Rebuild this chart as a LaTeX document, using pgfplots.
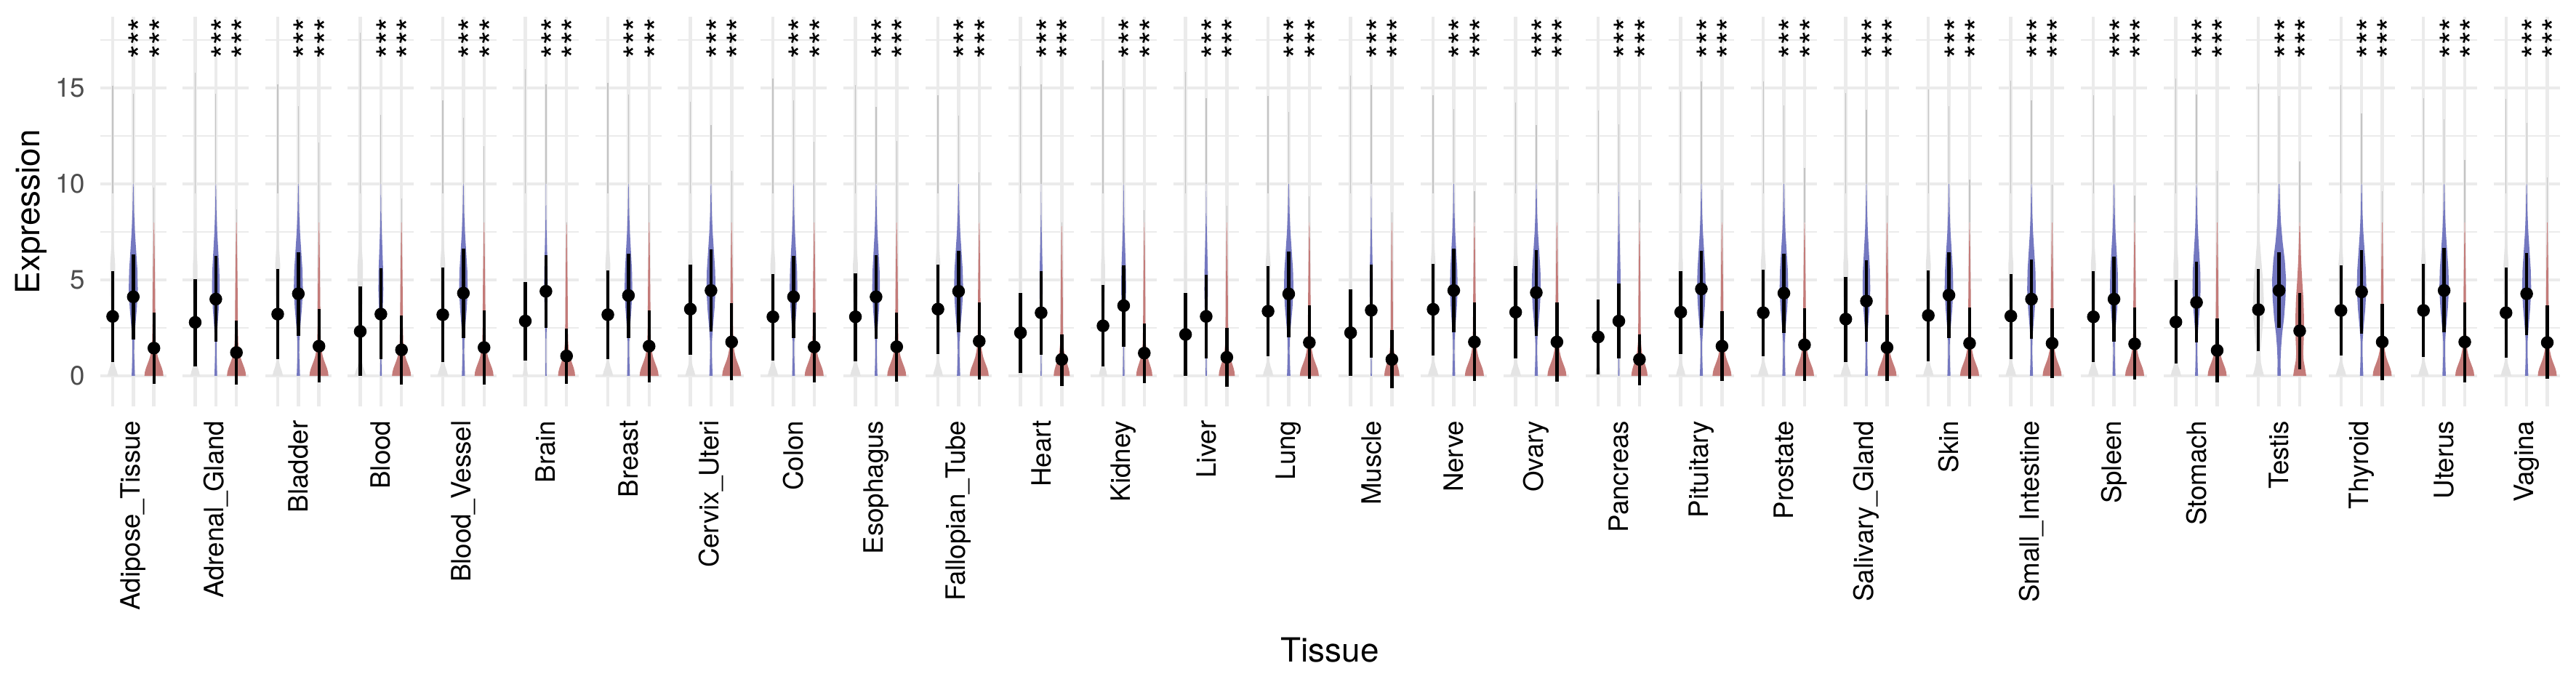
\documentclass[border=0pt]{standalone}
\usepackage{pgfplots}
\usepackage{pgfplotstable}
\pgfplotsset{compat=1.18}
\usepackage{fontspec}
\setmainfont{TeX Gyre Heros}
\definecolor{gridc}{HTML}{EBEBEB}
\definecolor{vgrey}{HTML}{E4E4E4}
\definecolor{vblue}{HTML}{7478C0}
\definecolor{vred}{HTML}{C47B79}
\definecolor{tailc}{HTML}{C4C4C4}
\definecolor{ticklab}{HTML}{4D4D4D}

% per tissue: grey (l,m,h,top,scale), blue (...), red (...)
\pgfplotstableread{
i gl gm gh gt gs bl bm bh bt bs rl rm rh rt rs
0 0.71 3.10 5.47 15.10 1.00 1.89 4.12 6.34 14.70 1.00 -0.41 1.45 3.29 9.82 1.00
1 0.49 2.79 5.03 15.77 0.90 1.77 4.00 6.24 14.68 0.85 -0.46 1.22 2.90 8.66 1.00
2 0.87 3.22 5.57 15.19 1.00 2.09 4.28 6.44 14.06 1.00 -0.35 1.55 3.47 12.14 1.00
3 0.00 2.32 4.67 17.87 1.10 0.86 3.22 5.59 13.59 0.55 -0.44 1.36 3.15 9.24 1.00
4 0.73 3.19 5.66 14.36 1.00 1.99 4.31 6.63 13.45 0.95 -0.46 1.48 3.42 11.95 1.00
5 0.80 2.86 4.89 15.99 0.50 2.50 4.41 6.27 15.19 0.40 -0.41 1.04 2.47 7.89 0.90
6 0.87 3.19 5.51 15.26 1.00 1.99 4.19 6.37 14.65 0.85 -0.33 1.55 3.41 9.97 1.00
7 1.10 3.48 5.80 14.28 0.95 2.31 4.45 6.60 13.06 1.00 -0.23 1.77 3.80 10.69 1.00
8 0.80 3.08 5.32 15.48 1.00 1.99 4.12 6.24 14.36 0.85 -0.33 1.51 3.29 12.19 1.00
9 0.75 3.08 5.35 15.15 1.00 1.94 4.12 6.30 13.99 0.85 -0.30 1.52 3.31 12.22 1.00
10 1.15 3.48 5.80 14.61 0.95 2.26 4.41 6.53 13.55 1.00 -0.19 1.81 3.84 10.62 1.00
11 0.17 2.25 4.31 16.13 0.45 1.12 3.29 5.47 15.19 0.35 -0.51 0.86 2.18 7.79 0.85
12 0.49 2.61 4.74 16.42 0.80 1.52 3.66 5.76 15.00 0.55 -0.38 1.19 2.74 8.62 0.85
13 0.00 2.16 4.31 15.84 0.50 0.93 3.10 5.25 14.46 0.40 -0.58 0.97 2.50 8.88 0.85
14 1.02 3.37 5.73 14.57 1.00 2.03 4.27 6.46 13.74 1.05 -0.15 1.74 3.66 9.37 1.00
15 0.00 2.25 4.50 15.62 0.40 0.97 3.42 5.80 15.15 0.35 -0.62 0.86 2.38 8.52 0.80
16 1.07 3.47 5.83 14.61 1.00 2.28 4.45 6.63 13.88 0.85 -0.26 1.77 3.83 9.60 1.00
17 0.90 3.32 5.73 14.25 1.00 2.09 4.34 6.56 13.06 1.00 -0.30 1.77 3.83 11.23 1.00
18 0.10 2.03 3.98 13.81 0.60 0.90 2.86 4.82 13.09 0.40 -0.48 0.86 2.18 9.17 0.85
19 1.15 3.32 5.44 14.80 0.90 2.50 4.53 6.51 15.33 0.95 -0.26 1.55 3.37 9.68 1.00
20 1.02 3.29 5.54 15.33 1.00 2.23 4.31 6.37 14.10 0.95 -0.26 1.62 3.54 10.84 1.00
21 0.73 2.96 5.15 14.71 1.00 1.77 3.90 6.02 13.85 0.85 -0.26 1.48 3.19 9.39 1.00
22 0.78 3.15 5.51 14.90 1.00 1.99 4.21 6.44 14.03 0.95 -0.15 1.70 3.58 10.21 1.00
23 0.86 3.12 5.32 15.36 1.00 1.94 4.00 6.08 14.36 0.95 -0.12 1.70 3.54 9.97 1.00
24 0.71 3.08 5.44 14.61 1.00 1.80 4.00 6.21 13.55 0.90 -0.19 1.67 3.57 9.39 1.00
25 0.64 2.81 5.02 15.48 1.00 1.74 3.83 5.93 14.65 0.90 -0.33 1.33 3.00 10.69 1.00
26 1.31 3.45 5.57 15.23 1.00 2.50 4.45 6.43 14.57 1.00 0.35 2.35 4.31 11.16 1.00
27 1.07 3.41 5.76 15.15 1.00 2.21 4.38 6.56 13.66 1.05 -0.22 1.77 3.77 9.63 1.00
28 1.00 3.41 5.83 14.46 1.00 2.28 4.45 6.66 13.38 1.05 -0.33 1.77 3.84 11.23 1.00
29 0.97 3.29 5.64 14.42 1.00 2.13 4.28 6.41 13.16 1.00 -0.15 1.74 3.66 10.33 1.00
}\stats

% violin outlines (y, half width in group units)
\pgfplotstableread{
y w
0 0.26
0.25 0.20
0.5 0.12
0.8 0.06
1.5 0.055
3.0 0.09
4.5 0.12
5.8 0.12
6.8 0.06
8.0 0.03
9.5 0.012
9.5 -0.012
8.0 -0.03
6.8 -0.06
5.8 -0.12
4.5 -0.12
3.0 -0.09
1.5 -0.055
0.8 -0.06
0.5 -0.12
0.25 -0.20
0 -0.26
}\tgrey
\pgfplotstableread{
y w
0 0.08
0.5 0.06
1.2 0.04
1.8 0.045
2.5 0.09
3.5 0.17
4.5 0.22
5.5 0.20
6.5 0.14
7.5 0.08
8.5 0.04
10 0.012
10 -0.012
8.5 -0.04
7.5 -0.08
6.5 -0.14
5.5 -0.20
4.5 -0.22
3.5 -0.17
2.5 -0.09
1.8 -0.045
1.2 -0.04
0.5 -0.06
0 -0.08
}\tblue
\pgfplotstableread{
y w
0 0.46
0.2 0.44
0.4 0.39
0.6 0.32
0.8 0.25
1.0 0.19
1.3 0.13
1.7 0.09
2.5 0.07
4.0 0.06
5.5 0.045
7.0 0.025
8.0 0.01
8.0 -0.01
7.0 -0.025
5.5 -0.045
4.0 -0.06
2.5 -0.07
1.7 -0.09
1.3 -0.13
1.0 -0.19
0.8 -0.25
0.6 -0.32
0.4 -0.39
0.2 -0.44
0 -0.46
}\tred
% Testis
\pgfplotstableread{
y w
0 0.28
0.3 0.20
0.7 0.12
1.2 0.10
2.0 0.16
3.0 0.24
4.0 0.26
5.0 0.22
6.0 0.14
7.0 0.07
8.0 0.04
9.5 0.012
9.5 -0.012
8.0 -0.04
7.0 -0.07
6.0 -0.14
5.0 -0.22
4.0 -0.26
3.0 -0.24
2.0 -0.16
1.2 -0.10
0.7 -0.12
0.3 -0.20
0 -0.28
}\tgreyT
\pgfplotstableread{
y w
0 0.08
0.8 0.07
1.5 0.10
2.2 0.15
3.0 0.24
4.0 0.31
5.0 0.34
6.0 0.28
7.0 0.17
8.0 0.09
9.0 0.045
10.0 0.015
10.0 -0.015
9.0 -0.045
8.0 -0.09
7.0 -0.17
6.0 -0.28
5.0 -0.34
4.0 -0.31
3.0 -0.24
2.2 -0.15
1.5 -0.10
0.8 -0.07
0 -0.08
}\tblueT
\pgfplotstableread{
y w
0 0.32
0.4 0.26
0.8 0.19
1.2 0.17
2.0 0.20
3.0 0.21
4.0 0.18
5.0 0.12
6.0 0.07
7.0 0.04
8.0 0.012
8.0 -0.012
7.0 -0.04
6.0 -0.07
5.0 -0.12
4.0 -0.18
3.0 -0.21
2.0 -0.20
1.2 -0.17
0.8 -0.19
0.4 -0.26
0 -0.32
}\tredT

\begin{document}
\begin{tikzpicture}
\useasboundingbox (0,0) rectangle (850.3pt,226.6pt);
\begin{axis}[
  at={(33.1pt,92.4pt)}, anchor=south west,
  scale only axis, width=811.8pt, height=128.6pt,
  xmin=0.4, xmax=119.6, ymin=-1.59, ymax=18.69,
  axis line style={draw=none}, major tick length=0pt, minor tick length=0pt,
  tick style={draw=none},
  xtick={1,...,119}, xticklabels={},
  ytick={0,5,10,15}, minor ytick={2.5,7.5,12.5,17.5},
  xmajorgrids, ymajorgrids, yminorgrids,
  major grid style={draw=gridc, line width=1.07pt},
  minor grid style={draw=gridc, line width=0.53pt},
  /pgf/number format/assume math mode=true,
  yticklabel style={font=\fontsize{8.8}{10}\selectfont, color=ticklab, anchor=east, inner sep=0pt},
  yticklabel shift=4.8pt,
  extra x ticks={2,6,...,118},
  extra x tick labels={Adipose\_Tissue,Adrenal\_Gland,Bladder,Blood,Blood\_Vessel,Brain,Breast,Cervix\_Uteri,Colon,Esophagus,Fallopian\_Tube,Heart,Kidney,Liver,Lung,Muscle,Nerve,Ovary,Pancreas,Pituitary,Prostate,Salivary\_Gland,Skin,Small\_Intestine,Spleen,Stomach,Testis,Thyroid,Uterus,Vagina},
  extra x tick style={grid=none, xticklabel style={rotate=90, anchor=east, inner sep=0pt, font=\fontsize{8.8}{10}\selectfont, color=black}},
  xticklabel shift=4.5pt,
  clip=true,
]
% gaps between facet panels
\pgfplotsinvokeforeach{0,...,28}{
  \fill[white] (axis cs:{4*#1+3.6},-1.59) rectangle (axis cs:{4*#1+4.4},18.69);
}
% violins
\pgfplotsinvokeforeach{0,...,25,27,28,29}{
  \pgfplotstablegetelem{#1}{gs}\of\stats \let\sg\pgfplotsretval
  \addplot[fill=vgrey, draw=none, mark=none] table[x expr={4*#1+1+\sg*\thisrow{w}}, y=y]{\tgrey};
  \pgfplotstablegetelem{#1}{bs}\of\stats \let\sb\pgfplotsretval
  \addplot[fill=vblue, draw=none, mark=none] table[x expr={4*#1+2+\sb*\thisrow{w}}, y=y]{\tblue};
  \pgfplotstablegetelem{#1}{rs}\of\stats \let\sr\pgfplotsretval
  \addplot[fill=vred, draw=none, mark=none] table[x expr={4*#1+3+\sr*\thisrow{w}}, y=y]{\tred};
}
\addplot[fill=vgrey, draw=none, mark=none] table[x expr={105+\thisrow{w}}, y=y]{\tgreyT};
\addplot[fill=vblue, draw=none, mark=none] table[x expr={106+\thisrow{w}}, y=y]{\tblueT};
\addplot[fill=vred, draw=none, mark=none] table[x expr={107+\thisrow{w}}, y=y]{\tredT};
% violin tails
\addplot[draw=none, mark=none, error bars/.cd, y dir=plus, y explicit, error mark=none,
  error bar style={draw=tailc, line width=0.3pt}]
  table[x expr={4*\thisrow{i}+1}, y expr=9.5, y error plus expr={\thisrow{gt}-9.5}]{\stats};
\addplot[draw=none, mark=none, error bars/.cd, y dir=plus, y explicit, error mark=none,
  error bar style={draw=tailc, line width=0.3pt}]
  table[x expr={4*\thisrow{i}+2}, y expr=10, y error plus expr={\thisrow{bt}-10}]{\stats};
\addplot[draw=none, mark=none, error bars/.cd, y dir=plus, y explicit, error mark=none,
  error bar style={draw=tailc, line width=0.3pt}]
  table[x expr={4*\thisrow{i}+3}, y expr=8, y error plus expr={\thisrow{rt}-8}]{\stats};
% point ranges
\addplot[only marks, mark=*, mark size=1.9pt, mark options={fill=black, draw=black},
  error bars/.cd, y dir=both, y explicit, error mark=none, error bar style={draw=black, line width=1.05pt}]
  table[x expr={4*\thisrow{i}+1}, y=gm, y error plus expr={\thisrow{gh}-\thisrow{gm}}, y error minus expr={\thisrow{gm}-\thisrow{gl}}]{\stats};
\addplot[only marks, mark=*, mark size=1.9pt, mark options={fill=black, draw=black},
  error bars/.cd, y dir=both, y explicit, error mark=none, error bar style={draw=black, line width=1.05pt}]
  table[x expr={4*\thisrow{i}+2}, y=bm, y error plus expr={\thisrow{bh}-\thisrow{bm}}, y error minus expr={\thisrow{bm}-\thisrow{bl}}]{\stats};
\addplot[only marks, mark=*, mark size=1.9pt, mark options={fill=black, draw=black},
  error bars/.cd, y dir=both, y explicit, error mark=none, error bar style={draw=black, line width=1.05pt}]
  table[x expr={4*\thisrow{i}+3}, y=rm, y error plus expr={\thisrow{rh}-\thisrow{rm}}, y error minus expr={\thisrow{rm}-\thisrow{rl}}]{\stats};
% significance stars
\begin{scope}
\clip (rel axis cs:0,0) rectangle (rel axis cs:1,1);
\pgfplotsinvokeforeach{0,...,29}{
  \node[rotate=90, anchor=base west, inner sep=0pt, font=\fontsize{11.38}{12}\selectfont] at (axis cs:{4*#1+2},16.5) {\raisebox{-0.6em}{****}};
  \node[rotate=90, anchor=base west, inner sep=0pt, font=\fontsize{11.38}{12}\selectfont] at (axis cs:{4*#1+3},16.5) {\raisebox{-0.6em}{****}};
}
\end{scope}
\end{axis}
\node[rotate=90, anchor=base, font=\fontsize{11}{13}\selectfont] at (13.2pt,156.7pt) {Expression};
\node[anchor=base, font=\fontsize{11}{13}\selectfont] at (439pt,8pt) {Tissue};
\end{tikzpicture}
\end{document}
